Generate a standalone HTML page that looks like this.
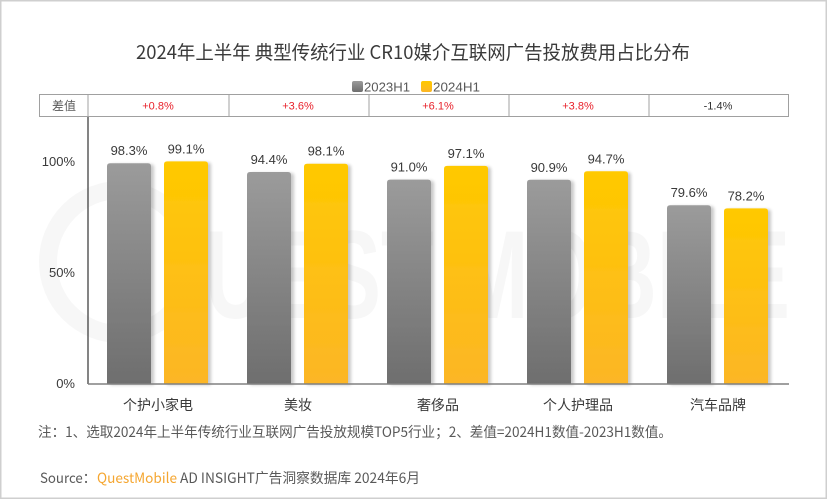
<!DOCTYPE html>
<html><head><meta charset="utf-8"><style>
html,body{margin:0;padding:0;background:#fff;}
svg{display:block;}
text{font-family:"Liberation Sans","Noto Sans CJK SC",sans-serif;}
.cjk{font-family:"Noto Sans CJK SC","Liberation Sans",sans-serif;}
</style></head><body>
<svg width="828" height="500" viewBox="0 0 828 500" xmlns="http://www.w3.org/2000/svg">
<defs>
<linearGradient id="g" x1="0" y1="0" x2="0" y2="1"><stop offset="0" stop-color="#9b9b9b"/><stop offset="1" stop-color="#6e6e6e"/></linearGradient>
<linearGradient id="y" x1="0" y1="0" x2="0" y2="1"><stop offset="0" stop-color="#ffc900"/><stop offset="1" stop-color="#fcb626"/></linearGradient>
<filter id="sh" x="-20%" y="-5%" width="150%" height="115%"><feGaussianBlur in="SourceAlpha" stdDeviation="1.6"/><feOffset dx="3" dy="1" result="b"/><feComponentTransfer><feFuncA type="linear" slope="0.22"/></feComponentTransfer><feMerge><feMergeNode/><feMergeNode in="SourceGraphic"/></feMerge></filter>
</defs>
<rect x="0.75" y="0.75" width="825.5" height="497.5" fill="#fff" stroke="#cfcfcf" stroke-width="1.5"/>
<!-- watermark -->
<circle cx="120" cy="262" r="72" fill="none" stroke="#f7f7f7" stroke-width="18"/>
<text x="205" y="318" font-size="125" font-weight="bold" fill="#f7f7f7" textLength="585" lengthAdjust="spacingAndGlyphs">UEST MOBILE</text>
<!-- title -->
<text class="cjk" x="136" y="59" font-size="19" fill="#3a3a3a" textLength="554" lengthAdjust="spacingAndGlyphs">2024年上半年 典型传统行业 CR10媒介互联网广告投放费用占比分布</text>
<!-- legend -->
<rect x="352" y="81" width="11" height="11" rx="2" fill="url(#g)"/>
<text x="364" y="91.5" font-size="13" fill="#595959" textLength="46" lengthAdjust="spacingAndGlyphs">2023H1</text>
<rect x="421" y="81" width="11" height="11" rx="2" fill="url(#y)"/>
<text x="433" y="91.5" font-size="13" fill="#595959" textLength="47" lengthAdjust="spacingAndGlyphs">2024H1</text>
<!-- table -->
<g stroke="#a0a0a0" stroke-width="1" fill="none">
<rect x="39.5" y="94.5" width="749" height="22"/>
<line x1="88" y1="94.5" x2="88" y2="116.5"/>
<line x1="229" y1="94.5" x2="229" y2="116.5"/>
<line x1="369" y1="94.5" x2="369" y2="116.5"/>
<line x1="509" y1="94.5" x2="509" y2="116.5"/>
<line x1="649" y1="94.5" x2="649" y2="116.5"/>
</g>
<g font-size="11" text-anchor="middle">
<text class="cjk" x="64" y="110" font-size="12" fill="#595959">差值</text>
<text x="158" y="109.5" fill="#e8202a">+0.8%</text>
<text x="298" y="109.5" fill="#e8202a">+3.6%</text>
<text x="438" y="109.5" fill="#e8202a">+6.1%</text>
<text x="578" y="109.5" fill="#e8202a">+3.8%</text>
<text x="718" y="109.5" fill="#333">-1.4%</text>
</g>
<!-- y labels -->
<g font-size="13" fill="#3a3a3a" text-anchor="end">
<text x="75" y="166">100%</text>
<text x="75" y="277">50%</text>
<text x="75" y="388">0%</text>
</g>
<!-- bars -->
<g filter="url(#sh)">
<path d="M107,384 V166.2 Q107,163.2 110,163.2 H148 Q151,163.2 151,166.2 V384 Z" fill="url(#g)"/>
<path d="M164,384 V164.4 Q164,161.4 167,161.4 H205 Q208,161.4 208,164.4 V384 Z" fill="url(#y)"/>
<path d="M247,384 V175 Q247,172 250,172 H288 Q291,172 291,175 V384 Z" fill="url(#g)"/>
<path d="M304,384 V166.7 Q304,163.7 307,163.7 H345 Q348,163.7 348,166.7 V384 Z" fill="url(#y)"/>
<path d="M387,384 V182.6 Q387,179.6 390,179.6 H428 Q431,179.6 431,182.6 V384 Z" fill="url(#g)"/>
<path d="M444,384 V168.9 Q444,165.9 447,165.9 H485 Q488,165.9 488,168.9 V384 Z" fill="url(#y)"/>
<path d="M527,384 V182.8 Q527,179.8 530,179.8 H568 Q571,179.8 571,182.8 V384 Z" fill="url(#g)"/>
<path d="M584,384 V174.3 Q584,171.3 587,171.3 H625 Q628,171.3 628,174.3 V384 Z" fill="url(#y)"/>
<path d="M667,384 V208.2 Q667,205.2 670,205.2 H708 Q711,205.2 711,208.2 V384 Z" fill="url(#g)"/>
<path d="M724,384 V211.4 Q724,208.4 727,208.4 H765 Q768,208.4 768,211.4 V384 Z" fill="url(#y)"/>
</g>
<!-- value labels -->
<g font-size="13" fill="#3a3a3a" text-anchor="middle">
<text x="129" y="155">98.3%</text>
<text x="186" y="153.5">99.1%</text>
<text x="269" y="164">94.4%</text>
<text x="326" y="155.5">98.1%</text>
<text x="409" y="171.5">91.0%</text>
<text x="466" y="158">97.1%</text>
<text x="549" y="172">90.9%</text>
<text x="606" y="163.5">94.7%</text>
<text x="689" y="197">79.6%</text>
<text x="746" y="200.5">78.2%</text>
</g>
<!-- axes -->
<line x1="88" y1="117" x2="88" y2="384" stroke="#333" stroke-width="1.2"/>
<line x1="88" y1="384" x2="789" y2="384" stroke="#808080" stroke-width="1.5"/>
<!-- categories -->
<g font-size="14" fill="#3a3a3a" text-anchor="middle">
<text class="cjk" x="158" y="410">个护小家电</text>
<text class="cjk" x="298" y="410">美妆</text>
<text class="cjk" x="438" y="410">奢侈品</text>
<text class="cjk" x="578" y="410">个人护理品</text>
<text class="cjk" x="718" y="410">汽车品牌</text>
</g>
<!-- note -->
<text class="cjk" x="38" y="437" font-size="14" fill="#595959" textLength="634" lengthAdjust="spacingAndGlyphs">注：1、选取2024年上半年传统行业互联网广告投放规模TOP5行业；2、差值=2024H1数值-2023H1数值。</text>
<!-- source -->
<text class="cjk" x="40" y="483" font-size="14" fill="#595959" textLength="56" lengthAdjust="spacingAndGlyphs">Source：</text>
<text class="cjk" x="97" y="483" font-size="14" fill="#f5a630" textLength="80" lengthAdjust="spacingAndGlyphs">QuestMobile</text>
<text class="cjk" x="180" y="483" font-size="14" fill="#595959" textLength="240" lengthAdjust="spacingAndGlyphs">AD INSIGHT广告洞察数据库 2024年6月</text>
</svg>
</body></html>
